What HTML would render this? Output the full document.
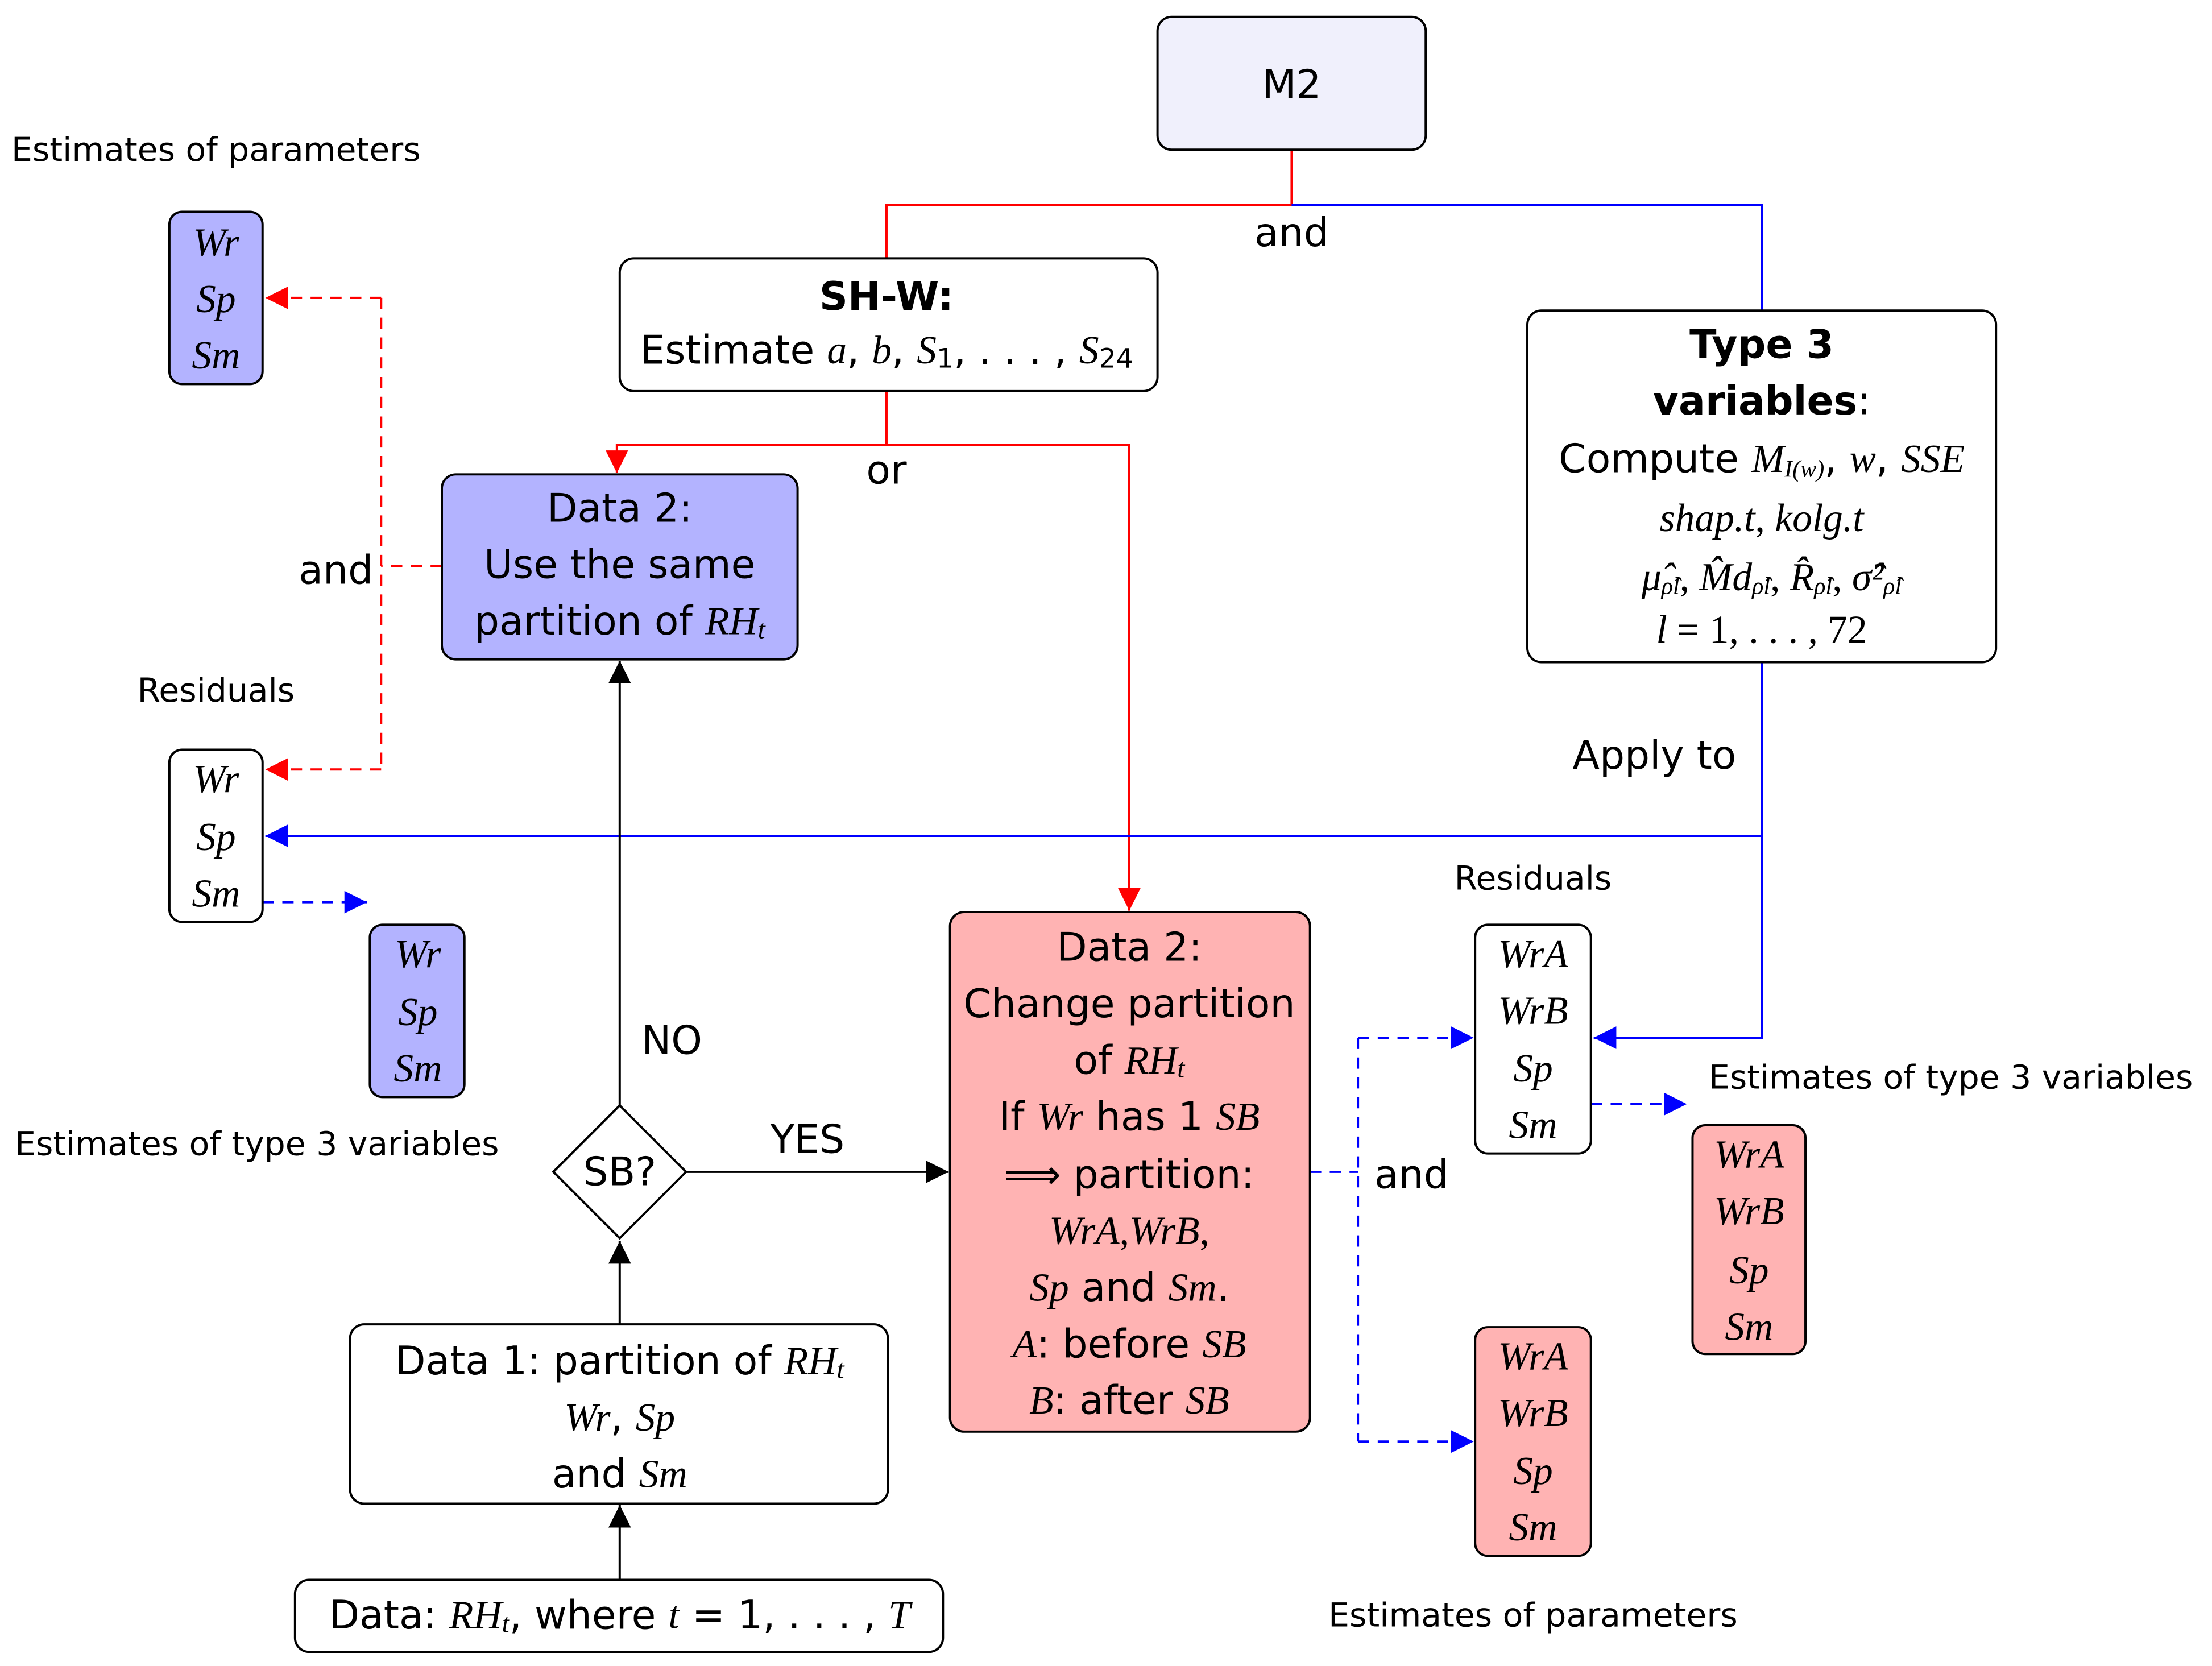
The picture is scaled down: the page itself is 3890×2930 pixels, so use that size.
<!DOCTYPE html>
<html><head><meta charset="utf-8"><style>
html,body{margin:0;padding:0;background:#fff;}
svg{display:block;}
text{font-family:"DejaVu Sans","Liberation Sans",sans-serif;font-size:28px;fill:#000;text-anchor:middle;dominant-baseline:central;}
.m{font-family:"Liberation Serif","DejaVu Serif",serif;font-style:italic;}
.s{font-size:23.5px;}
.b{font-weight:bold;}
</style></head><body>
<svg width="3890" height="2930" viewBox="0 0 1567 1180" preserveAspectRatio="none" xmlns="http://www.w3.org/2000/svg">
<defs>
<marker id="ak" viewBox="0 0 10 10" refX="10" refY="5" markerWidth="16" markerHeight="16" markerUnits="userSpaceOnUse" orient="auto"><path d="M0,0 L10,5 L0,10 z" fill="#000"/></marker>
<marker id="ar" viewBox="0 0 10 10" refX="10" refY="5" markerWidth="16" markerHeight="16" markerUnits="userSpaceOnUse" orient="auto"><path d="M0,0 L10,5 L0,10 z" fill="#f00"/></marker>
<marker id="ab" viewBox="0 0 10 10" refX="10" refY="5" markerWidth="16" markerHeight="16" markerUnits="userSpaceOnUse" orient="auto"><path d="M0,0 L10,5 L0,10 z" fill="#00f"/></marker>
</defs>
<g fill="none" stroke-width="1.6">
<path d="M915,106 V145 H628 V183" stroke="#f00"/>
<path d="M628,277 V315 H437 V335" stroke="#f00" marker-end="url(#ar)"/>
<path d="M628,315 H800 V645" stroke="#f00" marker-end="url(#ar)"/>
<path d="M915,145 H1248 V220" stroke="#00f"/>
<path d="M1248,469 V592 H188" stroke="#00f" marker-end="url(#ab)"/>
<path d="M1248,592 V735 H1129" stroke="#00f" marker-end="url(#ab)"/>
<g stroke="#f00" stroke-dasharray="8,6">
<path d="M313,401 H270"/>
<path d="M270,211 V545"/>
<path d="M270,211 H188" marker-end="url(#ar)"/>
<path d="M270,545 H188" marker-end="url(#ar)"/>
</g>
<g stroke="#00f" stroke-dasharray="8,6">
<path d="M186,639 H260" marker-end="url(#ab)"/>
<path d="M928,830 H962"/>
<path d="M962,735 V1021"/>
<path d="M962,735 H1044" marker-end="url(#ab)"/>
<path d="M962,1021 H1044" marker-end="url(#ab)"/>
<path d="M1127,782 H1195" marker-end="url(#ab)"/>
</g>
<g stroke="#000">
<path d="M439,783 V468" marker-end="url(#ak)"/>
<path d="M486,830 H672" marker-end="url(#ak)"/>
<path d="M439,938 V879" marker-end="url(#ak)"/>
<path d="M439,1119 V1066" marker-end="url(#ak)"/>
</g>
</g>
<g stroke="#000" stroke-width="1.6">
<rect x="820" y="12" width="190" height="94" rx="10" fill="#f0f0fc"/>
<rect x="439" y="183" width="381" height="94" rx="10" fill="#fff"/>
<rect x="313" y="336" width="252" height="131" rx="10" fill="#b3b3ff"/>
<rect x="1082" y="220" width="332" height="249" rx="10" fill="#fff"/>
<rect x="120" y="150" width="66" height="122" rx="9" fill="#b3b3ff"/>
<rect x="120" y="531" width="66" height="122" rx="9" fill="#fff"/>
<rect x="262" y="655" width="67" height="122" rx="9" fill="#b3b3ff"/>
<rect x="673" y="646" width="255" height="368" rx="10" fill="#ffb3b3"/>
<rect x="248" y="938" width="381" height="127" rx="10" fill="#fff"/>
<rect x="209" y="1119" width="459" height="51" rx="10" fill="#fff"/>
<rect x="1045" y="655" width="82" height="162" rx="9" fill="#fff"/>
<rect x="1199" y="797" width="80" height="162" rx="9" fill="#ffb3b3"/>
<rect x="1045" y="940" width="82" height="162" rx="9" fill="#ffb3b3"/>
<path d="M439,783 L486,830 L439,877 L392,830 Z" fill="#fff"/>
</g>
<text x="915" y="60">M2</text>
<text x="915" y="165">and</text>
<text x="628" y="210" class="b">SH-W:</text>
<text x="628" y="248">Estimate <tspan class="m">a</tspan>, <tspan class="m">b</tspan>, <tspan class="m">S</tspan><tspan font-size="19" dy="6">1</tspan><tspan dy="-6">, . . . , </tspan><tspan class="m">S</tspan><tspan font-size="19" dy="6">24</tspan></text>
<text x="628" y="333">or</text>
<text x="439" y="360">Data 2:</text>
<text x="439" y="400">Use the same</text>
<text x="439" y="440">partition of <tspan class="m">RH</tspan><tspan class="m" font-size="19" dy="6">t</tspan></text>
<text x="1248" y="244" class="b">Type 3</text>
<text x="1248" y="284"><tspan class="b">variables</tspan>:</text>
<text x="1248" y="325">Compute <tspan class="m">M</tspan><tspan class="m" font-size="17" dy="7">I(w)</tspan><tspan dy="-7">, </tspan><tspan class="m">w</tspan>, <tspan class="m">SSE</tspan></text>
<text x="1248" y="367" class="m" font-size="27">shap.t<tspan font-style="normal">, </tspan>kolg.t</text>
<text x="1255" y="409" class="m" font-size="26">μ̂<tspan font-size="17" dy="6">ρ̂l</tspan><tspan dy="-6" font-style="normal">, </tspan>M̂d<tspan font-size="17" dy="6">ρ̂l</tspan><tspan dy="-6" font-style="normal">, </tspan>R̂<tspan font-size="17" dy="6">ρ̂l</tspan><tspan dy="-6" font-style="normal">, </tspan>σ̂²<tspan font-size="17" dy="6">ρ̂l</tspan></text>
<text x="1248" y="446" class="m" font-size="27">l <tspan font-style="normal">= 1, . . . , 72</tspan></text>
<text x="1172" y="535">Apply to</text>
<text x="153" y="106" class="s">Estimates of parameters</text>
<text x="153" y="172" class="m" font-size="27">Wr</text><text x="153" y="212" class="m" font-size="27">Sp</text><text x="153" y="252" class="m" font-size="27">Sm</text>
<text x="238" y="404">and</text>
<text x="153" y="489" class="s">Residuals</text>
<text x="153" y="552" class="m" font-size="27">Wr</text><text x="153" y="593" class="m" font-size="27">Sp</text><text x="153" y="633" class="m" font-size="27">Sm</text>
<text x="296" y="676" class="m" font-size="27">Wr</text><text x="296" y="717" class="m" font-size="27">Sp</text><text x="296" y="757" class="m" font-size="27">Sm</text>
<text x="182" y="810" class="s">Estimates of type 3 variables</text>
<text x="476" y="737">NO</text>
<text x="439" y="830">SB?</text>
<text x="572" y="807">YES</text>
<text x="800" y="671">Data 2:</text>
<text x="800" y="711">Change partition</text>
<text x="800" y="751">of <tspan class="m">RH</tspan><tspan class="m" font-size="19" dy="6">t</tspan></text>
<text x="800" y="791">If <tspan class="m">Wr</tspan> has 1 <tspan class="m">SB</tspan></text>
<text x="800" y="832">⟹ partition:</text>
<text x="800" y="872" class="m">WrA<tspan font-style="normal">,</tspan>WrB<tspan font-style="normal">,</tspan></text>
<text x="800" y="912"><tspan class="m">Sp</tspan> and <tspan class="m">Sm</tspan>.</text>
<text x="800" y="952"><tspan class="m">A</tspan>: before <tspan class="m">SB</tspan></text>
<text x="800" y="992"><tspan class="m">B</tspan>: after <tspan class="m">SB</tspan></text>
<text x="439" y="964">Data 1: partition of <tspan class="m">RH</tspan><tspan class="m" font-size="19" dy="6">t</tspan></text>
<text x="439" y="1004"><tspan class="m">Wr</tspan>, <tspan class="m">Sp</tspan></text>
<text x="439" y="1044">and <tspan class="m">Sm</tspan></text>
<text x="439" y="1144">Data: <tspan class="m">RH</tspan><tspan class="m" font-size="19" dy="6">t</tspan><tspan dy="-6">, where </tspan><tspan class="m">t</tspan> = 1, . . . , <tspan class="m">T</tspan></text>
<text x="1000" y="832">and</text>
<text x="1086" y="622" class="s">Residuals</text>
<text x="1086" y="676" class="m" font-size="27">WrA</text><text x="1086" y="716" class="m" font-size="27">WrB</text><text x="1086" y="757" class="m" font-size="27">Sp</text><text x="1086" y="797" class="m" font-size="27">Sm</text>
<text x="1382" y="763" class="s">Estimates of type 3 variables</text>
<text x="1239" y="818" class="m" font-size="27">WrA</text><text x="1239" y="858" class="m" font-size="27">WrB</text><text x="1239" y="900" class="m" font-size="27">Sp</text><text x="1239" y="940" class="m" font-size="27">Sm</text>
<text x="1086" y="961" class="m" font-size="27">WrA</text><text x="1086" y="1001" class="m" font-size="27">WrB</text><text x="1086" y="1042" class="m" font-size="27">Sp</text><text x="1086" y="1082" class="m" font-size="27">Sm</text>
<text x="1086" y="1144" class="s">Estimates of parameters</text>
</svg>
</body></html>
